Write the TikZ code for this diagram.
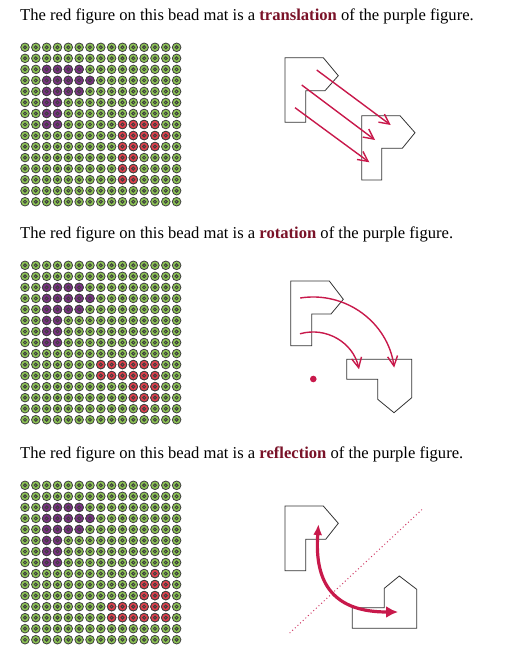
\documentclass[tikz,border=0pt]{standalone}
\usepackage{fontspec}
\setmainfont{Liberation Serif}
\usetikzlibrary{arrows.meta}
\definecolor{beadgreen}{HTML}{8DC455}
\definecolor{beadpurple}{HTML}{7B3184}
\definecolor{beadred}{HTML}{E2404C}
\definecolor{beadring}{HTML}{3F3F3F}
\definecolor{arrowred}{HTML}{C8194B}
\definecolor{wordred}{HTML}{7A1228}
\tikzset{
  caption/.style={anchor=base west,inner sep=0pt,font=\fontsize{16.6}{19}\selectfont},
  shapeline/.style={draw=black!80,line width=0.8pt,line join=miter},
  movearrow/.style={-{Straight Barb[length=10pt,width=10pt]},arrowred,line width=1.4pt},
  mirrorline/.style={arrowred!85,line width=1.4pt,line cap=round,dash pattern=on 0pt off 3.6pt},
  fliparrow/.style={{Latex[length=11pt,width=9pt]}-{Latex[length=12pt,width=12pt]},arrowred,line width=3.2pt},
  pics/bead/.style={code={
    \filldraw[draw=beadring,line width=0.8pt,fill=#1] (0,0) circle (4.3pt);
    \draw[beadring,line width=1pt] (0,0) circle (1.5pt);
  }},
}
\newcommand{\keyword}[1]{\textbf{\color{wordred}#1}}
\newcommand{\purplecells}{2/2,3/2,4/2,5/2,2/3,3/3,4/3,5/3,6/3,2/4,3/4,4/4,5/4,2/5,3/5,2/6,3/6,2/7,3/7}

\begin{document}
\begin{tikzpicture}[x=1pt,y=-1pt]
  \useasboundingbox (0,0) rectangle (522,661);

  \node[caption] (cap1) at (20,20.7) {The red figure on this bead mat is a \keyword{translation} of the purple figure.};
  \node[caption] (cap2) at (20,238.7) {The red figure on this bead mat is a \keyword{rotation} of the purple figure.};
  \node[caption] (cap3) at (20,458.7) {The red figure on this bead mat is a \keyword{reflection} of the purple figure.};

  % bead mats
  \foreach \top in {47.3,265.3,485.3} {
    \foreach \i in {0,...,14}
      \foreach \j in {0,...,14}
        \pic at ({25+10.83*\i},{\top+11.03*\j}) {bead=beadgreen};
    \foreach \i/\j in \purplecells
      \pic at ({25+10.83*\i},{\top+11.03*\j}) {bead=beadpurple};
  }
  \foreach \i/\j in {9/7,10/7,11/7,12/7,9/8,10/8,11/8,12/8,13/8,9/9,10/9,11/9,12/9,9/10,10/10,9/11,10/11,9/12,10/12}
    \pic at ({25+10.83*\i},{47.3+11.03*\j}) {bead=beadred};
  \foreach \i/\j in {7/9,8/9,9/9,10/9,11/9,12/9,7/10,8/10,9/10,10/10,11/10,12/10,10/11,11/11,12/11,10/12,11/12,12/12,11/13}
    \pic at ({25+10.83*\i},{265.3+11.03*\j}) {bead=beadred};
  \foreach \i/\j in {12/8,11/9,12/9,13/9,11/10,12/10,13/10,8/11,9/11,10/11,11/11,12/11,13/11,8/12,9/12,10/12,11/12,12/12,13/12}
    \pic at ({25+10.83*\i},{485.3+11.03*\j}) {bead=beadred};

  % translation
  \draw[shapeline] (285,57.7) -- (323.3,57.7) -- (338.3,75.7) -- (325,90.7) -- (305.7,90.7) -- (305.7,122.3) -- (285,122.3) -- cycle;
  \draw[shapeline] (361.7,115.7) -- (400,115.7) -- (415,132.7) -- (402.3,148.3) -- (381.7,148.3) -- (381.7,180) -- (361.7,180) -- cycle;
  \coordinate (t1s) at (316.7,70);
  \coordinate (t1e) at (390.7,125);
  \coordinate (t2s) at (301.7,85);
  \coordinate (t2e) at (375,140);
  \coordinate (t3s) at (295,107.7);
  \coordinate (t3e) at (369.3,162.3);
  \draw[movearrow] (t1s) -- (t1e);
  \draw[movearrow] (t2s) -- (t2e);
  \draw[movearrow] (t3s) -- (t3e);

  % rotation
  \draw[shapeline] (290.7,281) -- (329.3,281) -- (343.3,299.3) -- (331,314) -- (311.7,314) -- (311.7,345.7) -- (290.7,345.7) -- cycle;
  \draw[shapeline] (346.7,359.3) -- (411.7,359.3) -- (411.7,397.7) -- (394,412.7) -- (377.7,399.3) -- (377.7,379.3) -- (346.7,379.3) -- cycle;
  \coordinate (rc) at (313.3,379);
  \fill[arrowred] (rc) circle (3.3pt);
  \coordinate (r1s) at (300.2,298);
  \coordinate (r1e) at (394.2,367.6);
  \coordinate (r2s) at (300,333.8);
  \coordinate (r2e) at (359,369.2);
  \draw[movearrow] (r1s) .. controls (345.5,290.8) and (387.8,322.2) .. (r1e);
  \draw[movearrow] (r2s) .. controls (326.2,326.3) and (353.3,342.6) .. (r2e);

  % reflection
  \draw[shapeline] (285,506) -- (323.3,506) -- (338.3,523.3) -- (325.7,539.3) -- (305.7,539.3) -- (305.7,570.7) -- (285,570.7) -- cycle;
  \draw[shapeline] (352.3,628.3) -- (416.7,628.3) -- (416.7,589.3) -- (399.3,576) -- (384.3,588.3) -- (384.3,607.7) -- (352.3,607.7) -- cycle;
  \coordinate (m1) at (290,632.7);
  \coordinate (m2) at (423.3,508.3);
  \draw[mirrorline] (m1) -- (m2);
  \coordinate (f1) at (318.5,524);
  \coordinate (f2) at (398,612);
  \draw[fliparrow] (f1) .. controls (314,585) and (335,612) .. (f2);
\end{tikzpicture}
\end{document}
